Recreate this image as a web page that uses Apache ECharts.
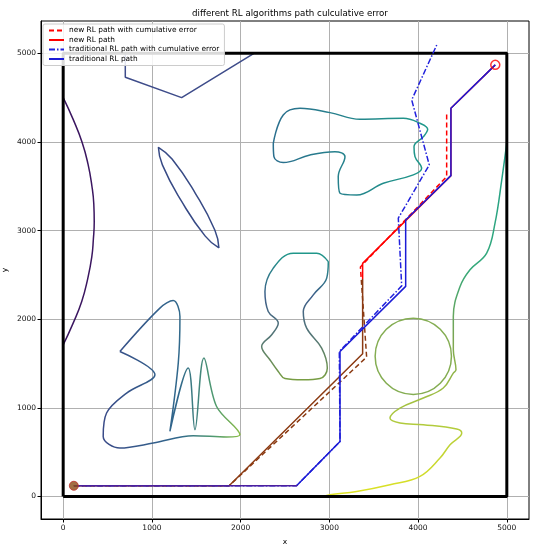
<!DOCTYPE html>
<html>
<head>
<meta charset="utf-8">
<script src="https://cdn.jsdelivr.net/npm/echarts@6/dist/echarts.min.js"></script>
<style>
  html, body { margin: 0; padding: 0; background: #fff; }
  #chart { width: 541px; height: 550px; }
</style>
</head>
<body>
<div id="chart"></div>
<script>
// tick labels
var axisTicks = [0, 1000, 2000, 3000, 4000, 5000];

// map boundary, start and goal
var boundary = [[0, 0], [5000, 0], [5000, 5000], [0, 5000], [0, 0]];
var startPt = [[120, 120]];
var goalPt = [[4870, 4870]];

// paths
var newPathErr = [[120, 120], [1870, 120], [3420, 1572], [3350, 2590], [4322, 3609], [4322, 4331]];
var newPath = [[120, 120], [1870, 120], [3375, 1609], [3375, 2630], [4370, 3620], [4370, 4380], [4870, 4870]];
var tradPathErr = [[120, 120], [2630, 120], [3120, 620], [3112, 1635], [3815, 2376], [3777, 3140], [4126, 3741], [3928, 4474], [4210, 5094]];
var tradPath = [[120, 120], [2630, 120], [3120, 620], [3120, 1635], [3860, 2370], [3860, 3120], [4370, 3620], [4370, 4380], [4870, 4870]];

// obstacles
var arcLeft = [[0, 4500], [110, 4260], [212, 4000], [280, 3750], [324, 3500], [345, 3300], [350, 3100], [340, 2900], [322, 2700], [275, 2450], [209, 2200], [110, 1950], [0, 1710]];
var zigzagTop = [[700, 5000], [700, 4730], [1335, 4500], [2150, 5000]];
var ellipsePts = [[1755, 2804], [1710, 3003], [1491, 3418], [1227, 3807], [1073, 3940], [1118, 3741], [1337, 3326], [1601, 2937], [1755, 2804]];
var starShape = [[639, 1635], [1090, 2125], [1240, 2210], [1316, 2030], [1297, 1504], [1203, 733], [1409, 1448], [1485, 752], [1586, 1561], [1729, 1015], [1992, 696], [1842, 670], [1466, 685], [1015, 602], [639, 546], [451, 677], [489, 941], [715, 1166], [1034, 1373], [639, 1635]];
var topBlob = [[2368, 3985], [2480, 4305], [2669, 4380], [3007, 4331], [3345, 4256], [3834, 4267], [4021, 4211], [4108, 4143], [4060, 4060], [3954, 3947], [3965, 3834], [4040, 3703], [3946, 3628], [3608, 3534], [3308, 3402], [3120, 3421], [3100, 3609], [3176, 3834], [3063, 3890], [2781, 3853], [2480, 3767], [2375, 3834], [2368, 3985]];
var midBlob = [[2988, 2650], [2857, 2745], [2593, 2745], [2368, 2576], [2274, 2312], [2311, 2087], [2424, 1956], [2350, 1824], [2237, 1692], [2330, 1542], [2424, 1410], [2500, 1330], [2700, 1316], [2894, 1330], [2977, 1448], [2913, 1674], [2744, 1899], [2706, 2087], [2819, 2275], [2970, 2463], [2988, 2650]];
var rightCurve = [[4999, 3986], [4943, 3572], [4867, 3083], [4773, 2745], [4585, 2557], [4473, 2368], [4397, 2030], [4397, 1654], [4427, 1429], [4397, 1392], [4284, 1223], [4059, 1110], [3796, 997], [3683, 884], [3796, 828], [4059, 809], [4435, 760], [4492, 715], [4360, 583], [4247, 433], [4021, 226], [3683, 132], [3307, 56], [3007, 19], [2926, 0]];
var circleObs = [[3946, 1581, 430]];

var chart = echarts.init(document.getElementById('chart'));
var G = echarts.graphic.LinearGradient;

function stops(list) {
  return list.map(function (s) { return { offset: s[0], color: s[1] }; });
}

function obstacle(data, color, smooth) {
  return {
    type: 'line',
    data: data,
    symbol: 'none',
    smooth: smooth,
    silent: true,
    z: 2,
    lineStyle: { width: 1.5, color: color }
  };
}

var font = 'DejaVu Sans';

function axisCommon(name) {
  return {
    type: 'value',
    name: name,
    nameLocation: 'middle',
    nameMoveOverlap: false,
    nameTextStyle: { fontSize: 7.5, color: '#000', fontFamily: font },
    axisLine: { show: true, onZero: false, lineStyle: { color: '#000', width: 1 } },
    axisTick: { show: true, length: 3.5, lineStyle: { color: '#000' }, customValues: axisTicks },
    axisLabel: {
      fontSize: 7.5, color: '#111', fontFamily: font, margin: 5,
      customValues: axisTicks,
      formatter: function (v) { return String(v); }
    },
    splitLine: { show: true, lineStyle: { color: '#b0b0b0', width: 1 } }
  };
}

var xAxis = axisCommon('x');
xAxis.min = -250;
xAxis.max = 5250;
xAxis.nameGap = 19;

var yAxis = axisCommon('y');
yAxis.min = -255;
yAxis.max = 5365;
yAxis.nameGap = 32;
yAxis.nameRotate = 90;

var option = {
  animation: false,
  backgroundColor: '#fff',
  title: {
    text: 'different RL algorithms path culculative error',
    left: 285,
    textAlign: 'center',
    top: 4,
    textStyle: { fontSize: 8.7, fontWeight: 'normal', color: '#000', fontFamily: font }
  },
  legend: {
    orient: 'vertical',
    left: 43,
    top: 24,
    itemWidth: 15,
    itemHeight: 8,
    itemGap: 2.5,
    padding: [3, 5, 3, 5],
    backgroundColor: 'rgba(255,255,255,0.85)',
    borderColor: '#cccccc',
    borderWidth: 1,
    borderRadius: 2,
    itemStyle: { opacity: 0 },
    textStyle: { fontSize: 7.4, color: '#000', fontFamily: font },
    data: [
      { name: 'new RL path with cumulative error', lineStyle: { color: '#ff0000' } },
      { name: 'new RL path', lineStyle: { color: '#ff0000' } },
      { name: 'traditional RL path with cumulative error', lineStyle: { color: '#2222dd' } },
      { name: 'traditional RL path', lineStyle: { color: '#1b1bd6' } }
    ]
  },
  grid: {
    left: 41, right: 12, top: 21, bottom: 31,
    outerBoundsMode: 'none', containLabel: false,
    show: true, borderColor: '#000', borderWidth: 1
  },
  xAxis: xAxis,
  yAxis: yAxis,
  series: [
    obstacle(arcLeft, '#3b1660', true),
    obstacle(zigzagTop, '#3e4c8a', false),
    obstacle(ellipsePts, '#374a85', 0.5),
    obstacle(starShape, new G(0, 0, 1, 0, stops([[0, '#3a4a88'], [0.55, '#31688c'], [0.8, '#4f9a70'], [1, '#8fbf45']])), 0.35),
    obstacle(topBlob, new G(0, 0, 1, 0, stops([[0, '#2b6e8e'], [1, '#1f9a8a']])), 0.4),
    obstacle(midBlob, new G(0, 0, 0, 1, stops([[0, '#1e9a8a'], [0.35, '#3f5f8a'], [0.7, '#587a72'], [1, '#7aa040']])), 0.4),
    obstacle(rightCurve, new G(0, 0, 0, 1, stops([[0, '#1f9e89'], [0.35, '#35a97c'], [0.55, '#7aa552'], [0.8, '#b3cc3c'], [1, '#e0e422']])), 0.4),
    {
      type: 'custom',
      data: circleObs,
      silent: true,
      z: 2,
      renderItem: function (params, api) {
        var c = api.coord([api.value(0), api.value(1)]);
        var r = api.size([api.value(2), 0])[0];
        return {
          type: 'circle',
          shape: { cx: c[0], cy: c[1], r: r },
          style: { fill: 'none', stroke: '#84ad52', lineWidth: 1.5 }
        };
      }
    },
    {
      type: 'line',
      data: boundary,
      symbol: 'none',
      silent: true,
      z: 3,
      lineStyle: { width: 3, color: '#000' }
    },
    {
      name: 'new RL path with cumulative error',
      type: 'line',
      data: newPathErr,
      symbol: 'none',
      z: 5,
      itemStyle: { color: '#ff0000' },
      lineStyle: {
        width: 1.5, type: [5, 3],
        color: new G(0, 0, 0, 1, stops([[0, '#ff0000'], [0.447, '#ff0000'], [0.447, '#8b3a12'], [1, '#8b3a12']]))
      }
    },
    {
      name: 'new RL path',
      type: 'line',
      data: newPath,
      symbol: 'none',
      z: 6,
      itemStyle: { color: '#ff0000' },
      lineStyle: {
        width: 1.5,
        color: new G(0, 0, 0, 1, stops([[0, '#ff0000'], [0.509, '#ff0000'], [0.509, '#8b3a12'], [1, '#8b3a12']]))
      }
    },
    {
      name: 'traditional RL path with cumulative error',
      type: 'line',
      data: tradPathErr,
      symbol: 'none',
      z: 7,
      itemStyle: { color: '#2222dd' },
      lineStyle: { width: 1.5, type: [6, 2, 1.5, 2], color: '#2222dd' }
    },
    {
      name: 'traditional RL path',
      type: 'line',
      data: tradPath,
      symbol: 'none',
      z: 8,
      itemStyle: { color: '#1b1bd6' },
      lineStyle: {
        width: 1.5,
        color: new G(0, 0, 0, 1, stops([[0, '#1b1bd6'], [0.993, '#1b1bd6'], [0.993, '#4b1f9e'], [1, '#4b1f9e']]))
      }
    },
    {
      type: 'scatter',
      data: startPt,
      symbolSize: 9,
      silent: true,
      z: 9,
      itemStyle: { color: '#8b4a14', borderColor: '#c0302a', borderWidth: 1 }
    },
    {
      type: 'scatter',
      data: goalPt,
      symbolSize: 9,
      silent: true,
      z: 9,
      itemStyle: { color: 'rgba(0,0,0,0)', borderColor: '#ff0000', borderWidth: 1.5 }
    }
  ]
};

chart.setOption(option);
</script>
</body>
</html>
